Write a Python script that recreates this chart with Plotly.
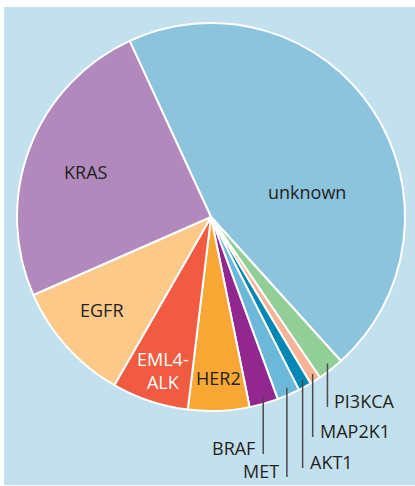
import math
import plotly.graph_objects as go

# ---- data (percent of cases) ----
labels = ["unknown", "PI3KCA", "MAP2K1", "AKT1", "MET", "BRAF", "HER2", "EML4-ALK", "EGFR", "KRAS"]
values = [45.2, 2.2, 0.9, 1.1, 1.9, 2.4, 5.1, 6.4, 10.1, 24.7]
display_text = ["unknown", "PI3KCA", "MAP2K1", "AKT1", "MET", "BRAF", "HER2", "EML4-<br>ALK", "EGFR", "KRAS"]

# ---- styling / layout ----
colors = ["#8cc3dd", "#92cf96", "#f8b296", "#0087b4", "#6cb8d9", "#92278f",
          "#f8a735", "#f05b41", "#fcc989", "#b189bd"]
W, H = 415, 486
CX, CY, R = 211, 217, 194          # pie centre / radius in pixels
ROTATION = -24.8
BG = "#c3e0ee"
FONT = "Open Sans"
TXT = "#231f20"
FS = 18

# inside labels: pixel position and colour
inside = {
    "unknown": (307, 192, TXT),
    "KRAS": (86, 172, TXT),
    "EGFR": (102, 310, TXT),
    "EML4-ALK": (163, 370, "white"),
    "HER2": (218, 378, TXT),
}
# outside labels with leader lines: line bottom (px), side of text
outside = {
    "PI3KCA": (407, "right"),
    "MAP2K1": (437, "right"),
    "AKT1": (468, "right"),
    "MET": (477, "left"),
    "BRAF": (454, "left"),
}


def px(x):
    return x / W


def py(y):
    return 1 - y / H


fig = go.Figure(go.Pie(
    labels=labels, values=values, sort=False, direction="clockwise",
    rotation=ROTATION, textinfo="none", hoverinfo="label+percent",
    marker=dict(colors=colors, line=dict(color="white", width=2)),
    domain=dict(x=[px(CX - R), px(CX + R)], y=[py(CY + R), py(CY - R)]),
    showlegend=False,
))

annotations = []
shapes = [dict(type="rect", xref="paper", yref="paper", x0=px(4), x1=px(415),
               y0=py(485), y1=py(7), fillcolor=BG, line=dict(width=0), layer="below")]

total = sum(values)
cum = 0.0
for lab, val, txt in zip(labels, values, display_text):
    mid = math.radians(ROTATION + (cum + val / 2) / total * 360)
    cum += val
    if lab in inside:
        x, y, c = inside[lab]
        annotations.append(dict(x=px(x), y=py(y), xref="paper", yref="paper", text=txt,
                                xanchor="center", yanchor="middle", showarrow=False,
                                font=dict(family=FONT, size=FS, color=c)))
    elif lab in outside:
        ybot, side = outside[lab]
        r0 = R * 0.96
        lx = CX + r0 * math.sin(mid) + 1.5
        ly = CY - r0 * math.cos(mid)
        shapes.append(dict(type="line", xref="paper", yref="paper", x0=px(lx), x1=px(lx),
                           y0=py(ly), y1=py(ybot), line=dict(color="#4a4a4a", width=1.5)))
        if side == "right":
            tx, xa = lx + 5, "left"
        else:
            tx, xa = lx - 6, "right"
        annotations.append(dict(x=px(tx), y=py(ybot - 6), xref="paper", yref="paper", text=txt,
                                xanchor=xa, yanchor="middle", showarrow=False,
                                font=dict(family=FONT, size=FS, color=TXT)))

fig.update_layout(
    width=W, height=H, margin=dict(l=0, r=0, t=0, b=0),
    paper_bgcolor="white", shapes=shapes, annotations=annotations,
)
fig.write_html("out.html", config={"displayModeBar": False},
               post_script="document.body.style.margin='0px';")
